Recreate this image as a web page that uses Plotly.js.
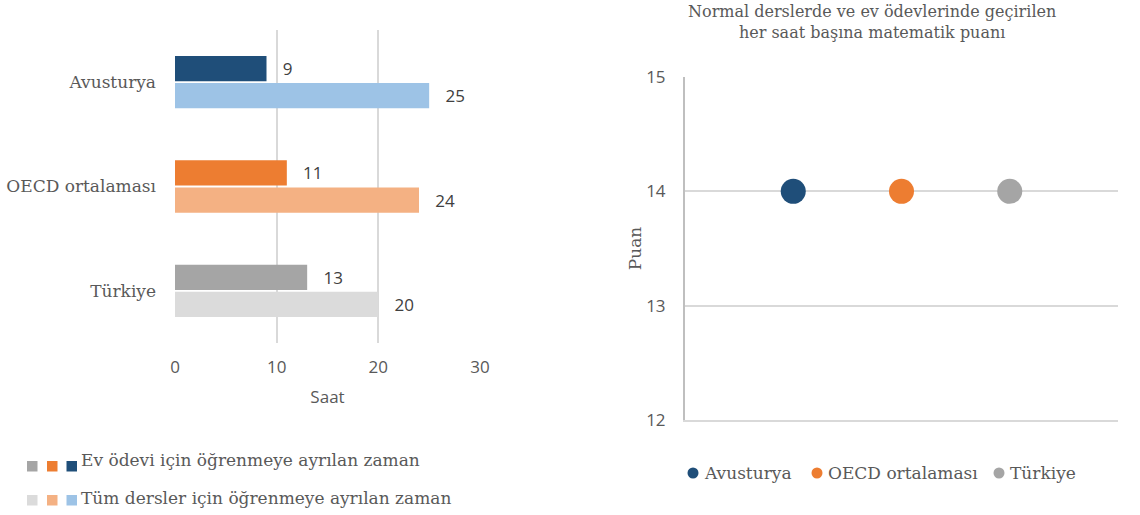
<!DOCTYPE html>
<html>
<head>
<meta charset="utf-8">
<script src="https://cdn.plot.ly/plotly-3.0.1.min.js"></script>
<style>
  html, body { margin: 0; padding: 0; background: #fff; }
  #chart { width: 1140px; height: 515px; }
</style>
</head>
<body>
<div id="chart"></div>
<script>
// ---- Data ----
const countries = ["Avusturya", "OECD ortalaması", "Türkiye"];
const homeworkHours = [9, 11, 13];
const allLessonsHours = [25, 24, 20];
const homeworkColors = ["#1f4e79", "#ed7d31", "#a5a5a5"];
const allLessonsColors = ["#9dc3e6", "#f4b183", "#dbdbdb"];
const homeworkLabel = "Ev ödevi için öğrenmeye ayrılan zaman";
const allLessonsLabel = "Tüm dersler için öğrenmeye ayrılan zaman";
const xTicks = [0, 10, 20, 30];
const xTitle = "Saat";

const scoreValues = [14, 14, 14];
const scoreColors = ["#1f4e79", "#ed7d31", "#a5a5a5"];
const scoreTicks = [12, 13, 14, 15];
const scoreTitle = "Normal derslerde ve ev ödevlerinde geçirilen<br>her saat başına matematik puanı";
const scoreYTitle = "Puan";

// ---- Styles ----
const serif = "DejaVu Serif, serif";
const sans = "Open Sans, sans-serif";
const textGray = "#595959";
const gridGray = "#d9d9d9";
const nb = "\u00a0";

const traces = [
  {
    type: "bar", orientation: "h",
    y: countries, x: homeworkHours,
    marker: { color: homeworkColors },
    texttemplate: nb + nb + nb + "%{x}",
    textposition: "outside",
    textfont: { family: sans, size: 17, color: "#404040" },
    cliponaxis: false,
    xaxis: "x", yaxis: "y", showlegend: false, hoverinfo: "skip"
  },
  {
    type: "bar", orientation: "h",
    y: countries, x: allLessonsHours,
    marker: { color: allLessonsColors },
    texttemplate: nb + nb + nb + "%{x}",
    textposition: "outside",
    textfont: { family: sans, size: 17, color: "#404040" },
    cliponaxis: false,
    xaxis: "x", yaxis: "y", showlegend: false, hoverinfo: "skip"
  }
];

countries.forEach((c, i) => {
  traces.push({
    type: "scatter", mode: "markers",
    x: [c], y: [scoreValues[i]],
    name: c,
    marker: { color: scoreColors[i], size: 25 },
    xaxis: "x2", yaxis: "y2", showlegend: false, hoverinfo: "skip"
  });
});

const W = 1140, H = 515;
const px = v => v / W;
const py = v => 1 - v / H;

const shapes = [];
const annotations = [];

// Right chart title
annotations.push({ text: scoreTitle, xref: "paper", yref: "paper", x: px(872), y: py(22),
  xanchor: "center", yanchor: "middle", align: "center", showarrow: false,
  font: { family: serif, size: 16, color: textGray } });

// Left legend: three colour squares + label per row
function sq(x0, y0, color) {
  shapes.push({ type: "rect", xref: "paper", yref: "paper",
    x0: px(x0), x1: px(x0 + 10.5), y0: py(y0 + 10.5), y1: py(y0),
    fillcolor: color, line: { width: 0 } });
}
const sqX = [27, 47, 66.5];
[homeworkColors[2], homeworkColors[1], homeworkColors[0]].forEach((c, i) => sq(sqX[i], 461, c));
[allLessonsColors[2], allLessonsColors[1], allLessonsColors[0]].forEach((c, i) => sq(sqX[i], 495, c));
[[homeworkLabel, 460], [allLessonsLabel, 498]].forEach(([t, y]) => {
  annotations.push({ text: t, xref: "paper", yref: "paper", x: px(79), y: py(y),
    xanchor: "left", yanchor: "middle", showarrow: false,
    font: { family: serif, size: 17, color: textGray } });
});

// Right legend: dot + country name
const legendDotX = [693, 817, 999];
const legendY = 473;
countries.forEach((c, i) => {
  const cx = legendDotX[i];
  shapes.push({ type: "circle", xref: "paper", yref: "paper",
    x0: px(cx - 5.5), x1: px(cx + 5.5), y0: py(legendY + 5.5), y1: py(legendY - 5.5),
    fillcolor: scoreColors[i], line: { width: 0 } });
  annotations.push({ text: c, xref: "paper", yref: "paper", x: px(cx + 9), y: py(legendY),
    xanchor: "left", yanchor: "middle", showarrow: false,
    font: { family: serif, size: 17, color: textGray } });
});

const layout = {
  width: W, height: H,
  margin: { l: 0, r: 0, t: 0, b: 0 },
  paper_bgcolor: "#fff", plot_bgcolor: "#fff",
  barmode: "group", bargap: 0.48, bargroupgap: 0.07,
  xaxis: {
    domain: [px(175), px(480)], anchor: "y",
    range: [0, 30], tickvals: xTicks, ticktext: xTicks.map(String),
    showgrid: true, gridcolor: gridGray, gridwidth: 2,
    zeroline: false, showline: false,
    ticks: "", ticklabelstandoff: 12,
    tickfont: { family: sans, size: 17, color: textGray },
    title: { text: xTitle, standoff: 14, font: { family: sans, size: 17, color: textGray } },
    fixedrange: true
  },
  yaxis: {
    domain: [py(343), py(30)], anchor: "x",
    type: "category", autorange: "reversed",
    showgrid: false, zeroline: false, showline: false,
    ticks: "", ticklabelstandoff: 18,
    tickfont: { family: serif, size: 17, color: textGray },
    fixedrange: true
  },
  xaxis2: {
    domain: [px(685), px(1118)], anchor: "y2",
    type: "category", range: [-1, 3],
    showticklabels: false, showgrid: false, zeroline: false,
    showline: true, linecolor: gridGray, linewidth: 2,
    fixedrange: true
  },
  yaxis2: {
    domain: [py(420), py(77)], anchor: "x2",
    range: [12, 15], tickvals: scoreTicks,
    showgrid: true, gridcolor: gridGray, gridwidth: 2,
    zeroline: false, showline: true, linecolor: "#bfbfbf", linewidth: 2,
    ticks: "", ticklabelstandoff: 14,
    tickfont: { family: sans, size: 17, color: textGray },
    title: { text: scoreYTitle, standoff: 0, font: { family: serif, size: 17, color: textGray } },
    fixedrange: true
  },
  showlegend: false,
  shapes: shapes,
  annotations: annotations
};

Plotly.newPlot("chart", traces, layout, { displayModeBar: false, staticPlot: true });
</script>
</body>
</html>
